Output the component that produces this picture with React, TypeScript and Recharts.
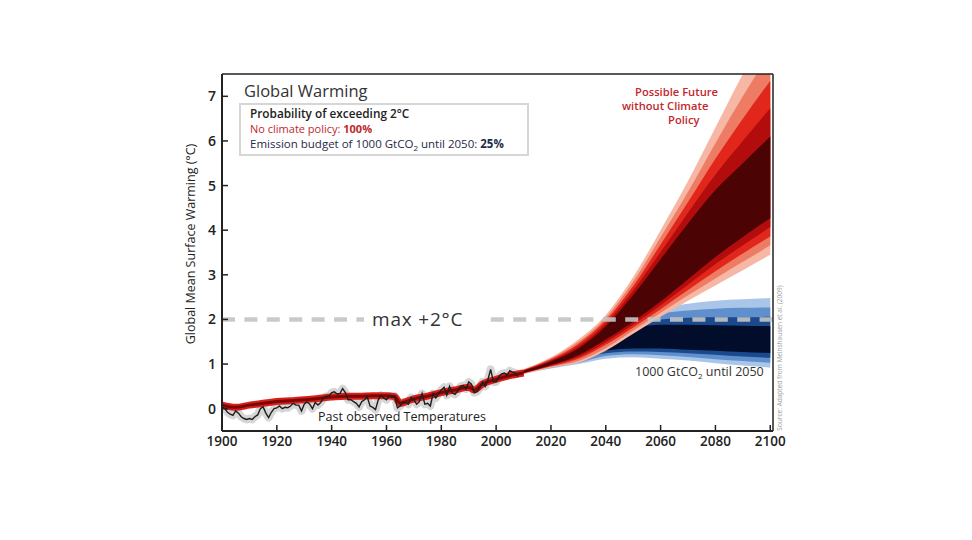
import { ComposedChart, Area, Line, XAxis, YAxis, ReferenceLine } from "recharts"

const FONT = "'Open Sans', 'DejaVu Sans', sans-serif"

// observed annual temperature anomaly, 1900..2008
const obsStart = 1900
const observed = [
  0.05, 0.0, -0.08, -0.12, -0.15, -0.05, -0.1, -0.18, -0.22, -0.24,
  -0.22, -0.24, -0.18, -0.14, 0.0, 0.04, -0.1, -0.2, -0.08, 0.0,
  0.02, 0.06, 0.0, 0.03, 0.02, 0.06, 0.12, 0.08, 0.08, -0.05,
  0.1, 0.15, 0.1, 0.0, 0.14, 0.08, 0.14, 0.24, 0.28, 0.28,
  0.36, 0.38, 0.33, 0.34, 0.45, 0.36, 0.2, 0.2, 0.16, 0.12,
  0.04, 0.16, 0.2, 0.26, 0.06, 0.03, -0.02, 0.2, 0.3, 0.24,
  0.2, 0.28, 0.26, 0.28, 0.02, 0.06, 0.15, 0.14, 0.1, 0.25,
  0.2, 0.1, 0.16, 0.34, 0.1, 0.12, 0.06, 0.34, 0.24, 0.34,
  0.42, 0.48, 0.3, 0.5, 0.35, 0.32, 0.4, 0.5, 0.52, 0.44,
  0.6, 0.55, 0.36, 0.38, 0.46, 0.6, 0.5, 0.65, 0.88, 0.6,
  0.6, 0.72, 0.78, 0.8, 0.75, 0.85, 0.82, 0.8, 0.72,
]

// model hindcast (red band through the past)
const hindYears = [1900, 1905, 1910, 1915, 1920, 1925, 1930, 1935, 1940, 1945, 1950, 1955, 1960, 1963, 1965, 1968, 1970, 1975, 1980, 1985, 1990, 1992, 1995, 2000, 2005, 2010]
const hindValues = [0.08, 0.03, 0.08, 0.12, 0.16, 0.18, 0.2, 0.23, 0.26, 0.28, 0.28, 0.29, 0.29, 0.27, 0.12, 0.18, 0.22, 0.28, 0.36, 0.42, 0.48, 0.42, 0.55, 0.66, 0.74, 0.8]

// projections
const fanYears = [2009, 2020, 2030, 2040, 2050, 2060, 2070, 2080, 2090, 2100]

// no climate policy (outer -> core)
const redOuterLo = [0.76, 0.92, 1.03, 1.3, 1.68, 2.06, 2.42, 2.76, 3.1, 3.45]
const redOuterHi = [0.86, 1.15, 1.55, 2.1, 2.95, 4.0, 5.1, 6.3, 7.5, 8.6]
const red2Lo = [0.77, 0.94, 1.07, 1.36, 1.75, 2.15, 2.54, 2.92, 3.29, 3.66]
const red2Hi = [0.85, 1.13, 1.5, 2.04, 2.85, 3.84, 4.86, 5.95, 7.0, 7.98]
const red3Lo = [0.78, 0.95, 1.12, 1.43, 1.82, 2.23, 2.66, 3.08, 3.48, 3.86]
const red3Hi = [0.85, 1.11, 1.45, 1.98, 2.75, 3.68, 4.63, 5.6, 6.5, 7.35]
const red4Lo = [0.78, 0.97, 1.16, 1.49, 1.88, 2.32, 2.78, 3.24, 3.66, 4.07]
const red4Hi = [0.84, 1.08, 1.4, 1.91, 2.65, 3.51, 4.39, 5.25, 6.0, 6.73]
const redCoreLo = [0.79, 0.98, 1.2, 1.55, 1.95, 2.4, 2.9, 3.4, 3.85, 4.27]
const redCoreHi = [0.83, 1.06, 1.35, 1.85, 2.55, 3.35, 4.15, 4.9, 5.5, 6.1]

// 1000 GtCO2 until 2050 (outer -> core)
const blueOuterLo = [0.78, 0.9, 1.0, 1.12, 1.15, 1.12, 1.08, 1.02, 0.97, 0.92]
const blueOuterHi = [0.82, 1.05, 1.35, 1.85, 2.1, 2.25, 2.35, 2.42, 2.45, 2.48]
const blue2Lo = [0.78, 0.92, 1.03, 1.18, 1.22, 1.2, 1.16, 1.11, 1.07, 1.03]
const blue2Hi = [0.82, 1.03, 1.3, 1.77, 2.0, 2.13, 2.2, 2.24, 2.26, 2.27]
const blue3Lo = [0.79, 0.94, 1.07, 1.24, 1.28, 1.27, 1.24, 1.21, 1.17, 1.14]
const blue3Hi = [0.81, 1.02, 1.28, 1.68, 1.9, 2.0, 2.04, 2.05, 2.05, 2.06]
const blueCoreLo = [0.79, 0.95, 1.1, 1.3, 1.35, 1.35, 1.32, 1.3, 1.27, 1.25]
const blueCoreHi = [0.81, 1.0, 1.25, 1.6, 1.8, 1.88, 1.88, 1.87, 1.86, 1.85]

const xTicks = [1900, 1920, 1940, 1960, 1980, 2000, 2020, 2040, 2060, 2080, 2100]
const yTicks = [0, 0.5, 1, 1.5, 2, 2.5, 3, 3.5, 4, 4.5, 5, 5.5, 6, 6.5, 7]

const obsData = observed.map((v, i) => ({ year: obsStart + i, v }))
const hindData = hindYears.map((year, i) => ({ year, v: hindValues[i] }))
const band = (lo: number[], hi: number[]) => fanYears.map((year, i) => ({ year, band: [lo[i], hi[i]] }))

const blueBands = [
  { data: band(blueOuterLo, blueOuterHi), fill: "#a9c5e8" },
  { data: band(blue2Lo, blue2Hi), fill: "#5f8fcc" },
  { data: band(blue3Lo, blue3Hi), fill: "#1b4a8c" },
  { data: band(blueCoreLo, blueCoreHi), fill: "#020d2c" },
]
const redBands = [
  { data: band(redOuterLo, redOuterHi), fill: "#f6b7a4" },
  { data: band(red2Lo, red2Hi), fill: "#ee7c64" },
  { data: band(red3Lo, red3Hi), fill: "#e1261c" },
  { data: band(red4Lo, red4Hi), fill: "#b30c0c" },
  { data: band(redCoreLo, redCoreHi), fill: "#4c0303" },
]

// left axis sits at x = 222, ticks point inward
const YTick = ({ y, payload }: any) => (
  <g>
    <line x1={222} x2={228} y1={y} y2={y} stroke="#222" strokeWidth={1.5} />
    {Number.isInteger(payload.value) && (
      <text x={216} y={y + 5} textAnchor="end" fontSize={14} fontWeight={600} fill="#222" fontFamily={FONT}>
        {payload.value}
      </text>
    )}
  </g>
)

// bottom axis sits at y = 431
const XTick = ({ x, payload }: any) => (
  <g>
    <line x1={x} x2={x} y1={431} y2={425} stroke="#222" strokeWidth={1.5} />
    <text x={x} y={446} textAnchor="middle" fontSize={13.5} fontWeight={600} fill="#222" fontFamily={FONT}>
      {payload.value}
    </text>
  </g>
)

const MaxLabel = ({ viewBox }: any) => (
  <g>
    <rect x={viewBox.x + 142} y={viewBox.y - 8} width={120} height={16} fill="#fff" />
    <text x={viewBox.x + 150} y={viewBox.y + 7} fontSize={19} letterSpacing={0.8} fill="#333" fontFamily={FONT}>
      max +2°C
    </text>
  </g>
)

export default function App() {
  return (
    <div style={{ position: "absolute", left: 0, top: 0, background: "#fff" }}>
      <ComposedChart width={972} height={540} margin={{ top: 74, right: 199, bottom: 79, left: 192 }}>
        <XAxis
          dataKey="year"
          type="number"
          domain={[1900, 2101]}
          ticks={xTicks}
          height={30}
          tickSize={0}
          tickMargin={0}
          tick={<XTick />}
          axisLine={{ stroke: "#222", strokeWidth: 2 }}
          allowDataOverflow
        />
        <YAxis
          type="number"
          domain={[-0.5, 7.5]}
          ticks={yTicks}
          width={30}
          tickSize={0}
          tickMargin={0}
          tick={<YTick />}
          axisLine={{ stroke: "#222", strokeWidth: 2 }}
          allowDataOverflow
        />
        {blueBands.map((b, i) => (
          <Area key={`b${i}`} data={b.data} dataKey="band" type="monotone" stroke="none" fill={b.fill} fillOpacity={1} isAnimationActive={false} />
        ))}
        {redBands.map((b, i) => (
          <Area key={`r${i}`} data={b.data} dataKey="band" type="monotone" stroke="none" fill={b.fill} fillOpacity={1} isAnimationActive={false} />
        ))}
        <Line data={obsData} dataKey="v" type="linear" stroke="#d6d6d6" strokeWidth={8} dot={false} strokeLinejoin="round" isAnimationActive={false} />
        <Line data={hindData} dataKey="v" type="monotone" stroke="#d8201a" strokeWidth={7} dot={false} isAnimationActive={false} />
        <Line data={hindData} dataKey="v" type="monotone" stroke="#7c0606" strokeWidth={3} dot={false} isAnimationActive={false} />
        <Line data={obsData} dataKey="v" type="linear" stroke="#1e1e1e" strokeWidth={1.4} dot={false} isAnimationActive={false} />
        <ReferenceLine y={2} stroke="#c4c4c4" strokeOpacity={0.9} strokeWidth={4.5} strokeDasharray="13 9.4" label={<MaxLabel />} />
        <ReferenceLine y={7.5} stroke="#222" strokeWidth={1.5} />
        <ReferenceLine x={2101} stroke="#222" strokeWidth={1.5} />

        <text x={244} y={97} fontSize={16.5} fill="#333" fontFamily={FONT}>Global Warming</text>
        <rect x={240} y={104} width={288} height={51} fill="#fff" stroke="#d6d6d6" strokeWidth={2} />
        <text x={250} y={118} fontSize={11.8} fontWeight={600} fill="#222" fontFamily={FONT}>Probability of exceeding 2°C</text>
        <text x={250} y={133} fontSize={11} fill="#c1272d" fontFamily={FONT}>
          No climate policy: <tspan fontWeight={700}>100%</tspan>
        </text>
        <text x={250} y={148} fontSize={11.5} fill="#1f2a48" fontFamily={FONT}>
          Emission budget of 1000 GtCO<tspan dy={3} fontSize={8}>2</tspan>
          <tspan dy={-3}> until 2050: </tspan>
          <tspan fontWeight={700}>25%</tspan>
        </text>

        <text x={635} y={96} fontSize={11.2} fontWeight={600} fill="#c1272d" fontFamily={FONT}>Possible Future</text>
        <text x={622} y={110} fontSize={11.2} fontWeight={600} fill="#c1272d" fontFamily={FONT}>without Climate</text>
        <text x={668} y={124} fontSize={11.2} fontWeight={600} fill="#c1272d" fontFamily={FONT}>Policy</text>

        <text x={635} y={376} fontSize={12.5} fill="#333" fontFamily={FONT}>
          1000 GtCO<tspan dy={3} fontSize={8}>2</tspan>
          <tspan dy={-3}> until 2050</tspan>
        </text>
        <text x={318} y={421} fontSize={12.5} fill="#222" fontFamily={FONT}>Past observed Temperatures</text>

        <text transform="translate(195,244) rotate(-90)" textAnchor="middle" fontSize={12.5} fill="#222" fontFamily={FONT}>
          Global Mean Surface Warming (°C)
        </text>
        <text transform="translate(782,358) rotate(-90)" textAnchor="middle" fontSize={6.5} fill="#9a9a9a" fontFamily={FONT}>
          Source: Adapted from Meinshausen et al. (2009)
        </text>
      </ComposedChart>
    </div>
  )
}
